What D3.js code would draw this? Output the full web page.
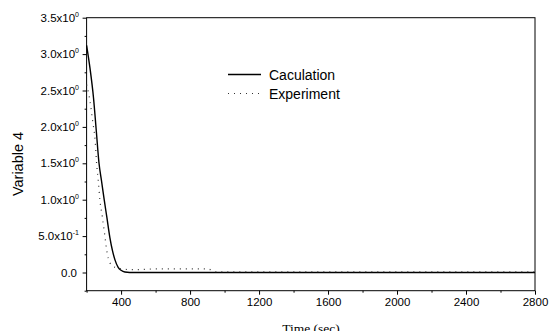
<!DOCTYPE html>
<html><head><meta charset="utf-8">
<script src="https://cdn.jsdelivr.net/npm/d3@7"></script>
<style>body{margin:0;background:#fff}svg{display:block}</style>
</head><body>
<svg id="c" width="549" height="331"></svg>
<script>
const calcTime  = [200, 220, 240, 256, 272, 287, 302, 318, 335, 350, 365, 383, 400, 422, 450, 600, 1000, 1500, 2000, 2500, 2800];
const calcValue = [3.12, 2.80, 2.40, 1.95, 1.50, 1.25, 1.00, 0.75, 0.48, 0.30, 0.17, 0.07, 0.03, 0.006, 0.0, 0.0, 0.0, 0.0, 0.0, 0.0, 0.0];
const expTime  = [200, 220, 235, 250, 258, 268, 277, 292, 306, 315, 325, 345, 365, 400, 450, 500, 600, 700, 800, 900, 950, 1200, 1600, 2000, 2400, 2800];
const expValue = [2.58, 2.35, 2.08, 1.80, 1.50, 1.25, 1.00, 0.75, 0.50, 0.33, 0.20, 0.10, 0.07, 0.05, 0.04, 0.04, 0.05, 0.05, 0.05, 0.05, 0.01, 0.01, 0.01, 0.01, 0.01, 0.01];
const xTicks = [400, 800, 1200, 1600, 2000, 2400, 2800];
const yTicks = [0, 0.5, 1.0, 1.5, 2.0, 2.5, 3.0, 3.5];
const yTickLabels = [["0.0", null], ["5.0x10", "-1"], ["1.0x10", "0"], ["1.5x10", "0"], ["2.0x10", "0"], ["2.5x10", "0"], ["3.0x10", "0"], ["3.5x10", "0"]];
const seriesNames = ["Caculation", "Experiment"];

const svg = d3.select("#c");
const L = 86.6, R = 535, T = 17.7, B = 290.7;
const x = d3.scaleLinear().domain([200, 2800]).range([L, R]);
const y = d3.scaleLinear().domain([-0.25, 3.5]).range([B, T]);

const xMinor = d3.range(200, 2801, 200).filter(v => !xTicks.includes(v));
const yMinor = d3.range(-0.25, 3.51, 0.25).map(v => +v.toFixed(2)).filter(v => !yTicks.includes(v));

const g = svg.append("g");
g.append("rect").attr("x", L).attr("y", T).attr("width", R - L).attr("height", B - T)
  .attr("fill", "none").attr("stroke", "#000").attr("stroke-width", 1);

const xAxis = g.append("g").attr("transform", `translate(0,${B})`)
  .call(d3.axisBottom(x).tickValues(xTicks).tickSize(4).tickPadding(3).tickFormat(d3.format("d")));
xAxis.select(".domain").remove();
xAxis.selectAll("text").attr("font-family", "Liberation Sans, Arial, sans-serif").attr("font-size", 11.5).attr("fill", "#000");
g.append("g").attr("transform", `translate(0,${B})`)
  .call(d3.axisBottom(x).tickValues(xMinor).tickSize(2).tickFormat(""))
  .select(".domain").remove();

const yAxis = g.append("g").attr("transform", `translate(${L},0)`)
  .call(d3.axisLeft(y).tickValues(yTicks).tickSize(4).tickFormat(""));
yAxis.select(".domain").remove();
g.append("g").attr("transform", `translate(${L},0)`)
  .call(d3.axisLeft(y).tickValues(yMinor).tickSize(2).tickFormat(""))
  .select(".domain").remove();
g.selectAll(".tick line").attr("stroke", "#000");

yTicks.forEach((v, i) => {
  const [base, sup] = yTickLabels[i];
  const t = g.append("text").attr("x", sup === null ? 77 : 79).attr("y", y(v) + 4)
    .attr("text-anchor", "end")
    .attr("font-family", "Liberation Sans, Arial, sans-serif").attr("font-size", 11.5).attr("fill", "#000");
  t.append("tspan").text(base);
  if (sup !== null) {
    t.append("tspan").attr("dy", -5).attr("font-size", 7).text(sup);
  }
});

const line = d3.line().x(d => x(d[0])).y(d => y(d[1])).curve(d3.curveMonotoneX);
g.append("path").datum(calcTime.map((t, i) => [t, calcValue[i]]))
  .attr("d", line).attr("fill", "none").attr("stroke", "#000").attr("stroke-width", 1.4);
g.append("path").datum(expTime.map((t, i) => [t, expValue[i]]))
  .attr("d", line).attr("fill", "none").attr("stroke", "#333").attr("stroke-width", 1.2)
  .attr("stroke-dasharray", "1,5");

const lg = g.append("g");
[0, 1].forEach(i => {
  const yy = 74.5 + i * 19;
  lg.append("line").attr("x1", 228).attr("x2", 261).attr("y1", yy).attr("y2", yy)
    .attr("stroke", i === 0 ? "#000" : "#333").attr("stroke-width", i === 0 ? 1.4 : 1.2)
    .attr("stroke-dasharray", i === 0 ? null : "1,5");
  lg.append("text").attr("x", 269).attr("y", yy + 5)
    .attr("font-family", "Liberation Sans, Arial, sans-serif").attr("font-size", 14).attr("fill", "#000")
    .text(seriesNames[i]);
});

g.append("text").attr("x", 311).attr("y", 332.5).attr("text-anchor", "middle")
  .attr("font-family", "Liberation Serif, Times New Roman, serif").attr("font-size", 13.5).attr("fill", "#000")
  .text("Time (sec)");
g.append("text").attr("transform", `translate(22.5,164) rotate(-90)`).attr("text-anchor", "middle")
  .attr("font-family", "Liberation Sans, Arial, sans-serif").attr("font-size", 14.5).attr("fill", "#000")
  .text("Variable 4");
</script>
</body></html>
